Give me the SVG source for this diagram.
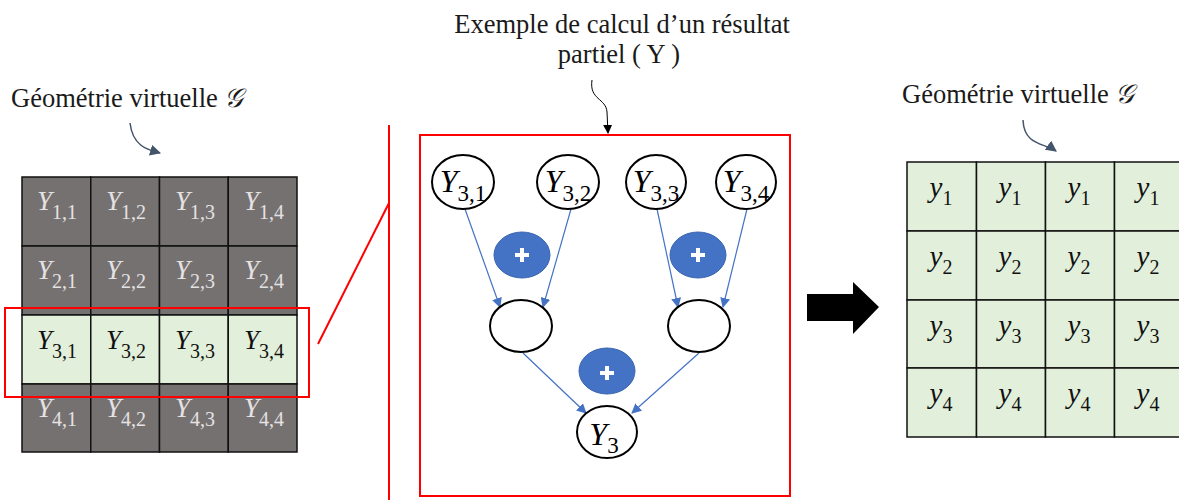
<svg xmlns="http://www.w3.org/2000/svg" width="1179" height="500" viewBox="0 0 1179 500">
<style>
.lbl{font-family:"Liberation Serif","Times New Roman",serif;font-size:26.5px;fill:#1a1a1a}
.dk{fill:#767171;stroke:#111;stroke-width:1.5}
.lt{fill:#E2EFDA;stroke:#111;stroke-width:1.5}
.ct{font-family:"Liberation Serif","DejaVu Serif",serif;font-size:27px;text-anchor:middle}
.cy{font-family:"Liberation Serif","DejaVu Serif",serif;font-size:29px;text-anchor:middle;fill:#111}
.w{fill:#E4E2E2}
.b{fill:#111}
.it{font-style:italic}
.sub{font-size:20px}
.node{fill:#fff;stroke:#000;stroke-width:2}
.nt{font-family:"Liberation Serif","DejaVu Serif",serif;font-size:32px;text-anchor:middle;fill:#000}
.ns{font-size:23px}
.plus{fill:#4472C4;stroke:#3A64B0;stroke-width:1}
.pl{stroke:#fff;stroke-width:4}
.edge{stroke:#4472C4;stroke-width:1.2;fill:none}
.red{fill:none;stroke:#FF0000;stroke-width:2}
.slate{stroke:#44546A;stroke-width:1.5;fill:none}
</style>
<defs>
<marker id="ab" viewBox="0 0 10 10" refX="9" refY="5" markerWidth="10" markerHeight="10" markerUnits="userSpaceOnUse" orient="auto"><path d="M0,0 L10,5 L0,10 z" fill="#4472C4"/></marker>
<marker id="as" viewBox="0 0 10 10" refX="9" refY="5" markerWidth="11" markerHeight="11" markerUnits="userSpaceOnUse" orient="auto"><path d="M0,0 L10,5 L0,10 z" fill="#44546A"/></marker>
<marker id="ak" viewBox="0 0 10 10" refX="9" refY="5" markerWidth="9" markerHeight="9" markerUnits="userSpaceOnUse" orient="auto"><path d="M0,0 L10,5 L0,10 z" fill="#000"/></marker>
</defs>

<g id="label-left"><text class="lbl" x="11" y="107">Géométrie virtuelle <tspan class="it">𝒢</tspan></text></g>
<g id="label-right"><text class="lbl" x="902" y="103">Géométrie virtuelle <tspan class="it">𝒢</tspan></text></g>
<g id="label-middle"><text class="lbl" text-anchor="middle" x="622" y="33">Exemple de calcul d’un résultat</text><text class="lbl" text-anchor="middle" x="619" y="63">partiel ( Y )</text></g>

<g id="grid-left">
<rect class="dk" x="22" y="177" width="68.75" height="69"/><rect class="dk" x="90.75" y="177" width="68.75" height="69"/><rect class="dk" x="159.5" y="177" width="68.75" height="69"/><rect class="dk" x="228.25" y="177" width="68.75" height="69"/>
<rect class="dk" x="22" y="246" width="68.75" height="69"/><rect class="dk" x="90.75" y="246" width="68.75" height="69"/><rect class="dk" x="159.5" y="246" width="68.75" height="69"/><rect class="dk" x="228.25" y="246" width="68.75" height="69"/>
<rect class="lt" x="22" y="315" width="68.75" height="69"/><rect class="lt" x="90.75" y="315" width="68.75" height="69"/><rect class="lt" x="159.5" y="315" width="68.75" height="69"/><rect class="lt" x="228.25" y="315" width="68.75" height="69"/>
<rect class="dk" x="22" y="384" width="68.75" height="68"/><rect class="dk" x="90.75" y="384" width="68.75" height="68"/><rect class="dk" x="159.5" y="384" width="68.75" height="68"/><rect class="dk" x="228.25" y="384" width="68.75" height="68"/>
<text class="ct w" x="57" y="210"><tspan class="it">Y</tspan><tspan class="sub" dy="9">1,1</tspan></text>
<text class="ct w" x="126" y="210"><tspan class="it">Y</tspan><tspan class="sub" dy="9">1,2</tspan></text>
<text class="ct w" x="195" y="210"><tspan class="it">Y</tspan><tspan class="sub" dy="9">1,3</tspan></text>
<text class="ct w" x="264" y="210"><tspan class="it">Y</tspan><tspan class="sub" dy="9">1,4</tspan></text>
<text class="ct w" x="57" y="279"><tspan class="it">Y</tspan><tspan class="sub" dy="9">2,1</tspan></text>
<text class="ct w" x="126" y="279"><tspan class="it">Y</tspan><tspan class="sub" dy="9">2,2</tspan></text>
<text class="ct w" x="195" y="279"><tspan class="it">Y</tspan><tspan class="sub" dy="9">2,3</tspan></text>
<text class="ct w" x="264" y="279"><tspan class="it">Y</tspan><tspan class="sub" dy="9">2,4</tspan></text>
<text class="ct b" x="57" y="349"><tspan class="it">Y</tspan><tspan class="sub" dy="9">3,1</tspan></text>
<text class="ct b" x="126" y="349"><tspan class="it">Y</tspan><tspan class="sub" dy="9">3,2</tspan></text>
<text class="ct b" x="195" y="349"><tspan class="it">Y</tspan><tspan class="sub" dy="9">3,3</tspan></text>
<text class="ct b" x="264" y="349"><tspan class="it">Y</tspan><tspan class="sub" dy="9">3,4</tspan></text>
<text class="ct w" x="57" y="417"><tspan class="it">Y</tspan><tspan class="sub" dy="9">4,1</tspan></text>
<text class="ct w" x="126" y="417"><tspan class="it">Y</tspan><tspan class="sub" dy="9">4,2</tspan></text>
<text class="ct w" x="195" y="417"><tspan class="it">Y</tspan><tspan class="sub" dy="9">4,3</tspan></text>
<text class="ct w" x="264" y="417"><tspan class="it">Y</tspan><tspan class="sub" dy="9">4,4</tspan></text>
</g>
<g id="highlight-left"><rect class="red" x="5" y="308" width="304" height="89"/></g>

<g id="zoom-lines">
<line class="red" x1="389" y1="125" x2="389" y2="500"/>
<line class="red" x1="318" y1="344" x2="389" y2="203"/>
</g>

<g id="frame-middle"><rect class="red" x="420" y="135" width="370" height="361"/></g>

<g id="connectors">
<path class="slate" d="M130,123 C133,148 150,150 160,153" marker-end="url(#as)"/>
<path class="slate" d="M1023,120 C1024,146 1045,143 1056,151" marker-end="url(#as)"/>
<path d="M592,80 C589,100 606,98 607,112 L608,133" fill="none" stroke="#000" stroke-width="1" marker-end="url(#ak)"/>
<line class="edge" x1="465" y1="209" x2="500" y2="307" marker-end="url(#ab)"/>
<line class="edge" x1="571" y1="209" x2="543" y2="307" marker-end="url(#ab)"/>
<line class="edge" x1="657" y1="209" x2="678" y2="307" marker-end="url(#ab)"/>
<line class="edge" x1="747" y1="209" x2="723" y2="307" marker-end="url(#ab)"/>
<line class="edge" x1="523" y1="353" x2="586" y2="413" marker-end="url(#ab)"/>
<line class="edge" x1="699" y1="353" x2="632" y2="413" marker-end="url(#ab)"/>
</g>

<g id="node-y31"><ellipse class="node" cx="463" cy="182" rx="31" ry="27"/><text class="nt" x="463" y="192"><tspan class="it">Y</tspan><tspan class="ns" dy="9">3,1</tspan></text></g>
<g id="node-y32"><ellipse class="node" cx="568" cy="182" rx="31" ry="27"/><text class="nt" x="568" y="192"><tspan class="it">Y</tspan><tspan class="ns" dy="9">3,2</tspan></text></g>
<g id="node-y33"><ellipse class="node" cx="656" cy="182" rx="30" ry="27"/><text class="nt" x="656" y="192"><tspan class="it">Y</tspan><tspan class="ns" dy="9">3,3</tspan></text></g>
<g id="node-y34"><ellipse class="node" cx="746" cy="182" rx="30" ry="27"/><text class="nt" x="746" y="192"><tspan class="it">Y</tspan><tspan class="ns" dy="9">3,4</tspan></text></g>
<g id="plus-1"><ellipse class="plus" cx="522" cy="255" rx="28" ry="23"/><path class="pl" d="M515,255 H529 M522,248 V262"/></g>
<g id="plus-2"><ellipse class="plus" cx="698" cy="255" rx="28" ry="23"/><path class="pl" d="M691,255 H705 M698,248 V262"/></g>
<g id="node-mid-left"><ellipse class="node" cx="521" cy="326" rx="31" ry="26"/></g>
<g id="node-mid-right"><ellipse class="node" cx="699" cy="326" rx="31" ry="26"/></g>
<g id="plus-3"><ellipse class="plus" cx="607" cy="371" rx="28" ry="23"/><path class="pl" d="M600,373 H614 M607,366 V380"/></g>
<g id="node-y3"><ellipse class="node" cx="607" cy="432" rx="30" ry="26"/><text class="nt" x="604" y="445"><tspan class="it">Y</tspan><tspan class="ns" dy="8">3</tspan></text></g>

<g id="big-arrow"><polygon points="807,294 853,294 853,282 879,307 853,334 853,321 807,321" fill="#000"/></g>

<g id="grid-right">
<rect class="lt" x="907" y="162" width="69.5" height="69"/><rect class="lt" x="976.5" y="162" width="69" height="69"/><rect class="lt" x="1045.5" y="162" width="69" height="69"/><rect class="lt" x="1114.5" y="162" width="69" height="69"/>
<rect class="lt" x="907" y="231" width="69.5" height="69"/><rect class="lt" x="976.5" y="231" width="69" height="69"/><rect class="lt" x="1045.5" y="231" width="69" height="69"/><rect class="lt" x="1114.5" y="231" width="69" height="69"/>
<rect class="lt" x="907" y="300" width="69.5" height="68"/><rect class="lt" x="976.5" y="300" width="69" height="68"/><rect class="lt" x="1045.5" y="300" width="69" height="68"/><rect class="lt" x="1114.5" y="300" width="69" height="68"/>
<rect class="lt" x="907" y="368" width="69.5" height="69"/><rect class="lt" x="976.5" y="368" width="69" height="69"/><rect class="lt" x="1045.5" y="368" width="69" height="69"/><rect class="lt" x="1114.5" y="368" width="69" height="69"/>
<text class="cy" x="941" y="197"><tspan class="it">y</tspan><tspan class="sub" dy="8">1</tspan></text>
<text class="cy" x="1010" y="197"><tspan class="it">y</tspan><tspan class="sub" dy="8">1</tspan></text>
<text class="cy" x="1079" y="197"><tspan class="it">y</tspan><tspan class="sub" dy="8">1</tspan></text>
<text class="cy" x="1148" y="197"><tspan class="it">y</tspan><tspan class="sub" dy="8">1</tspan></text>
<text class="cy" x="941" y="266"><tspan class="it">y</tspan><tspan class="sub" dy="8">2</tspan></text>
<text class="cy" x="1010" y="266"><tspan class="it">y</tspan><tspan class="sub" dy="8">2</tspan></text>
<text class="cy" x="1079" y="266"><tspan class="it">y</tspan><tspan class="sub" dy="8">2</tspan></text>
<text class="cy" x="1148" y="266"><tspan class="it">y</tspan><tspan class="sub" dy="8">2</tspan></text>
<text class="cy" x="941" y="335"><tspan class="it">y</tspan><tspan class="sub" dy="8">3</tspan></text>
<text class="cy" x="1010" y="335"><tspan class="it">y</tspan><tspan class="sub" dy="8">3</tspan></text>
<text class="cy" x="1079" y="335"><tspan class="it">y</tspan><tspan class="sub" dy="8">3</tspan></text>
<text class="cy" x="1148" y="335"><tspan class="it">y</tspan><tspan class="sub" dy="8">3</tspan></text>
<text class="cy" x="941" y="403"><tspan class="it">y</tspan><tspan class="sub" dy="8">4</tspan></text>
<text class="cy" x="1010" y="403"><tspan class="it">y</tspan><tspan class="sub" dy="8">4</tspan></text>
<text class="cy" x="1079" y="403"><tspan class="it">y</tspan><tspan class="sub" dy="8">4</tspan></text>
<text class="cy" x="1148" y="403"><tspan class="it">y</tspan><tspan class="sub" dy="8">4</tspan></text>
</g>
</svg>
